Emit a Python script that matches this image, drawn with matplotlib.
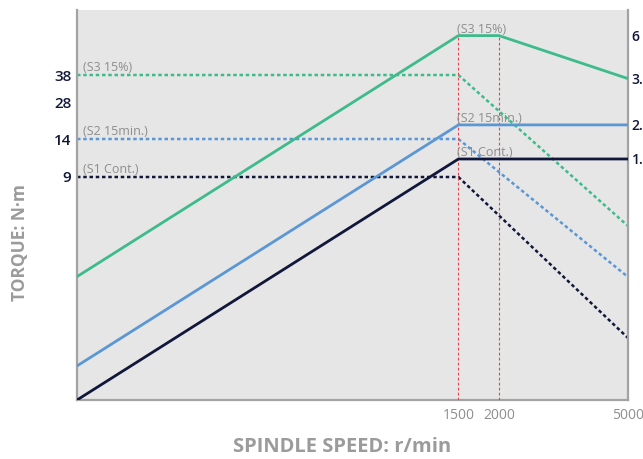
import numpy as np
import matplotlib.pyplot as plt

# speed axis (r/min)
speed = [100, 1500, 5000]
speed_s3 = [100, 1500, 2000, 5000]

# power curves (kW), solid lines, right axis
p_s1 = [0.1, 1.5, 1.5]
p_s2 = [2.2 / 15, 2.2, 2.2]
p_s3 = [0.4, 6, 6, 3.7]
power_ticks = [6, 3.7, 2.2, 1.5]
# the reference cuts these labels at the right edge
power_labels = ['6', '3.', '2.', '1.']

# torque curves (N·m), dotted lines, left axis
t_s1 = [9, 9, 2.9]
t_s2 = [14, 14, 4.2]
t_s3 = [38, 38, 7.1]
torque_ticks = [38, 28, 14, 9]

speed_ticks = [1500, 2000, 5000]
knee_speeds = [1500, 2000]

# the torque axis of the original is schematic, not linear or log
t_knots = [0, 2.9, 4.2, 7.1, 9, 14, 28, 38, 60]
h_knots = [0, 62, 123, 174, 223, 261, 298, 325, 390]


def fwd(v):
    return np.interp(v, t_knots, h_knots)


def inv(v):
    return np.interp(v, h_knots, t_knots)


GREEN = '#3dbb8b'
BLUE = '#5b97d5'
NAVY = '#11173a'
GRAY_TXT = '#8e8e8e'
SPINE = '#a3a3a3'

fig = plt.figure(figsize=(6.43, 4.59), dpi=100)
ax = fig.add_axes([77 / 643, 59 / 459, 551 / 643, 390 / 459])
ax.set_facecolor('#e6e6e6')
ax.set_xscale('log')
ax.set_xlim(100, 5000)
ax.set_yscale('function', functions=(fwd, inv))
ax.set_ylim(0, 60)

ax2 = ax.twinx()
ax2.set_yscale('log')
ax2.set_ylim(0.1, 8.0)

# dotted torque lines
dots = dict(lw=1.8, linestyle=(0, (1.4, 1.1)), dash_capstyle='butt')
ax.plot(speed, t_s3, color=GREEN, **dots)
ax.plot(speed, t_s2, color=BLUE, **dots)
ax.plot(speed, t_s1, color=NAVY, **dots)

# knee markers
ax2.vlines(knee_speeds, 0.1, p_s3[1], color='#e8414c', lw=0.8,
           linestyles=(0, (2.5, 2)), zorder=1)

# solid power lines
ax2.plot(speed_s3, p_s3, color=GREEN, lw=2.0, solid_capstyle='butt')
ax2.plot(speed, p_s2, color=BLUE, lw=2.0, solid_capstyle='butt')
ax2.plot(speed, p_s1, color=NAVY, lw=2.0, solid_capstyle='butt')

lab = dict(color=GRAY_TXT, fontsize=9, family='Open Sans',
           textcoords='offset points', va='bottom', ha='left')
ax.annotate('(S3 15%)', xy=(100, 38), xytext=(4, 1), **lab)
ax.annotate('(S2 15min.)', xy=(100, 14), xytext=(4, 1), **lab)
ax.annotate('(S1 Cont.)', xy=(100, 9), xytext=(4, 1), **lab)
ax2.annotate('(S3 15%)', xy=(1500, 6), xytext=(-1, 0), **lab)
ax2.annotate('(S2 15min.)', xy=(1500, 2.2), xytext=(-1, 0), **lab)
ax2.annotate('(S1 Cont.)', xy=(1500, 1.5), xytext=(-1, 0), **lab)

# ticks
ax.set_xticks(speed_ticks)
ax.set_xticklabels([str(s) for s in speed_ticks])
ax.xaxis.set_minor_locator(plt.NullLocator())
ax.set_yticks(torque_ticks)
ax.set_yticklabels([str(t) for t in torque_ticks])
ax.yaxis.set_minor_locator(plt.NullLocator())
ax2.set_yticks(power_ticks)
ax2.set_yticklabels(power_labels)
ax2.yaxis.set_minor_locator(plt.NullLocator())

ax.tick_params(axis='x', length=0, pad=6, labelsize=10, labelcolor=GRAY_TXT)
ax.tick_params(axis='y', length=0, pad=4, labelsize=11, labelcolor=NAVY)
ax2.tick_params(axis='y', length=0, pad=2.5, labelsize=10, labelcolor=NAVY)
for t in ax.get_xticklabels():
    t.set_family('Open Sans')
for t in ax.get_yticklabels() + ax2.get_yticklabels():
    t.set_family('Open Sans')
    t.set_fontweight('semibold')

for s in ax2.spines.values():
    s.set_visible(False)
ax.spines['top'].set_visible(False)
for side in ['left', 'right', 'bottom']:
    ax.spines[side].set_color(SPINE)
    ax.spines[side].set_linewidth(1.6)

fig.text(342 / 643, 1 - 447 / 459, 'SPINDLE SPEED: r/min', ha='center',
         va='center', fontsize=14.5, fontweight='bold', color='#9b9b9b',
         family='Open Sans')
fig.text(20 / 643, 1 - 243 / 459, 'TORQUE: N·m', ha='center', va='center',
         rotation=90, fontsize=12.5, fontweight='bold', color='#9b9b9b',
         family='Open Sans')

fig.savefig('out.png', dpi=100)
